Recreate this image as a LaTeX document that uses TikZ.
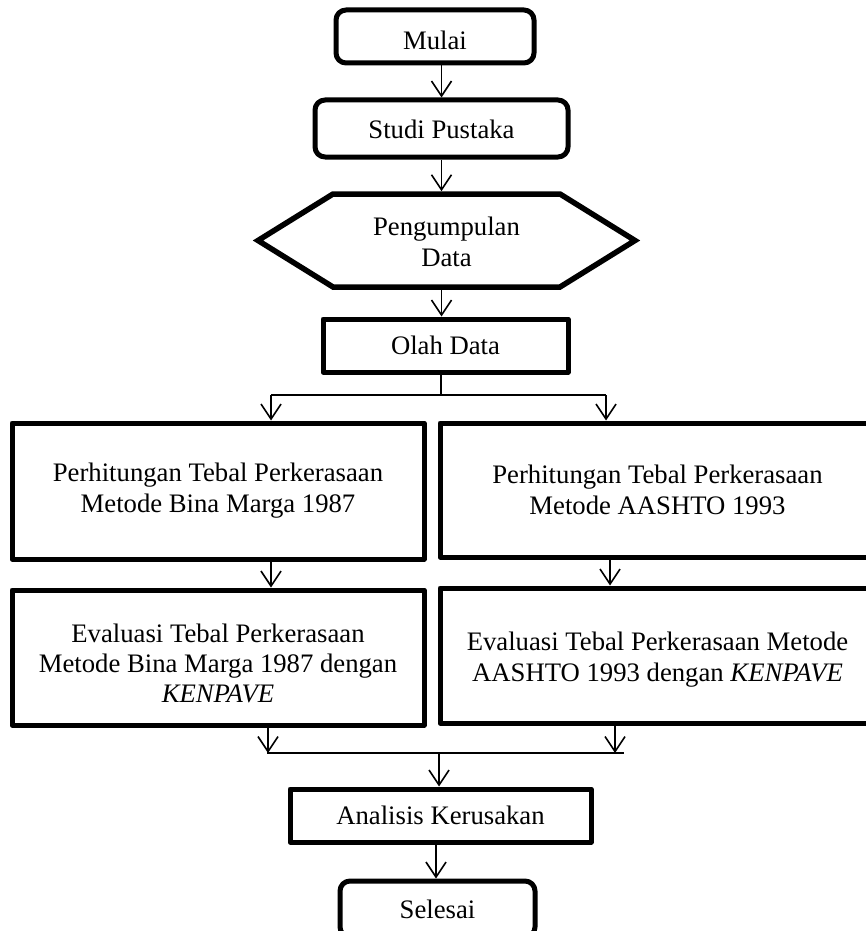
\documentclass[tikz,border=0pt]{standalone}
\usepackage{fontspec}
\setmainfont{Liberation Serif}
\usetikzlibrary{arrows.meta,calc}
\begin{document}
\begin{tikzpicture}[x=1pt,y=-1pt,
  font=\fontsize{26.7}{31}\selectfont,
  box/.style={draw, line width=5pt, inner sep=0pt, align=center, line join=round},
  rbox/.style={box, rounded corners=10pt},
  conn/.style={line width=1.6pt},
  arr/.style={conn, -{Straight Barb[length=15pt,width=20pt]}}
]
\useasboundingbox (0,0) rectangle (866,931);
\clip (0,0) rectangle (866,931);

% nodes
\node[rbox, minimum width=198pt, minimum height=53pt] (mulai) at (435,36.5) {\rule{0pt}{26pt}Mulai};
\node[rbox, minimum width=253pt, minimum height=57pt] (studi) at (441.5,128.5) {\rule{0pt}{20pt}Studi Pustaka};
\node[inner sep=0pt, outer sep=2.8pt, align=center, minimum width=377pt, minimum height=93pt] (hex) at (446.5,240.5) {\rule{0pt}{21pt}Pengumpulan\\Data};
\draw[line width=5.5pt]
  ($(hex.center)+(-188.5,0)$) -- ($(hex.center)+(-113.5,-46.5)$) -- ($(hex.center)+(113.5,-46.5)$)
  -- ($(hex.center)+(188.5,0)$) -- ($(hex.center)+(113.5,46.5)$) -- ($(hex.center)+(-113.5,46.5)$) -- cycle;
\node[box, minimum width=245pt, minimum height=53pt] (olah) at (445.5,345.5) {Olah Data};
\node[box, minimum width=412pt, minimum height=136pt] (p1) at (218,491) {Perhitungan Tebal Perkerasaan\\Metode Bina Marga 1987};
\node[box, minimum width=435pt, minimum height=134pt] (p2) at (657.5,490) {Perhitungan Tebal Perkerasaan\\Metode AASHTO 1993};
\node[box, minimum width=412pt, minimum height=135pt] (e1) at (218,657.5) {\rule{0pt}{30pt}Evaluasi Tebal Perkerasaan\\[-1pt]Metode Bina Marga 1987 dengan\\[-1pt]\textit{KENPAVE}};
\node[box, minimum width=435pt, minimum height=135pt] (e2) at (657.5,655.5) {\rule{0pt}{26pt}Evaluasi Tebal Perkerasaan Metode\\AASHTO 1993 dengan \textit{KENPAVE}};
\node[box, minimum width=301pt, minimum height=53pt] (anal) at (440.5,815.5) {Analisis Kerusakan};
\node[rbox, minimum width=195pt, minimum height=56pt] (selesai) at (437.5,909) {Selesai};

% helper coordinates
\coordinate (split) at (441,395);
\coordinate (bl) at (271,395);
\coordinate (br) at (606,395);
\coordinate (cl) at (271,0);
\coordinate (cr) at (610,0);
\coordinate (jl) at (268,753);
\coordinate (jr) at (615,753);
\coordinate (ja) at (267,753);
\coordinate (jb) at (624,753);
\coordinate (jc) at (439,753);
\coordinate (ax) at (436,0);

% connectors
\draw[arr] (mulai.south -| studi) -- (studi.north);
\draw[arr] (studi.south) -- (studi.south |- hex.north);
\draw[arr] (studi.south |- hex.south) -- (studi.south |- olah.north);
\draw[conn] (olah.south -| split) -- (split);
\draw[conn] (bl) -- (br);
\draw[arr] (bl) -- (bl |- p1.north);
\draw[arr] (br) -- (br |- p2.north);
\draw[arr] (p1.south -| cl) -- (e1.north -| cl);
\draw[arr] (p2.south -| cr) -- (e2.north -| cr);
\draw[arr] (e1.south -| jl) -- (jl);
\draw[arr] (e2.south -| jr) -- (jr);
\draw[conn] (ja) -- (jb);
\draw[arr] (jc) -- (jc |- anal.north);
\draw[arr] (anal.south -| ax) -- (selesai.north -| ax);
\end{tikzpicture}
\end{document}
